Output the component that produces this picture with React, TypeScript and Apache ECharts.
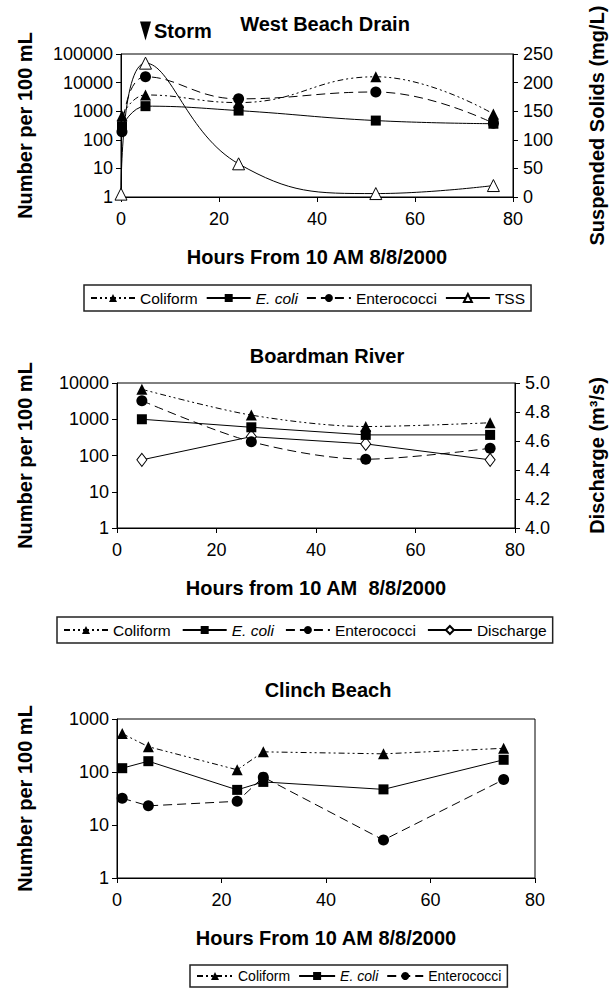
import React, { useEffect, useRef } from "react";
import * as echarts from "echarts";

const FONT = "'Liberation Sans', Arial, Helvetica, sans-serif";

// ---------- West Beach Drain (hours, value) ----------
const wbColiform = [[0.2, 700], [5, 3700], [24, 2000], [52, 16000], [76, 800]];
const wbEcoli = [[0.2, 300], [5, 1500], [24, 1050], [52, 470], [76, 365]];
const wbEntero = [[0.2, 190], [5, 16000], [24, 2700], [52, 4700], [76, 380]];
const wbTSS = [[0, 5], [5, 234], [24, 58], [52, 6], [76, 20]];
const wbStorm = [[5, 100000]];

// ---------- Boardman River ----------
const brColiform = [[5, 6700], [27, 1300], [50, 630], [75, 800]];
const brEcoli = [[5, 1000], [27, 600], [50, 370], [75, 370]];
const brEntero = [[5, 3250], [27, 240], [50, 79], [75, 158]];
const brDischarge = [[5, 4.47], [27, 4.63], [50, 4.58], [75, 4.47]];

// ---------- Clinch Beach ----------
const cbColiform = [[1, 530], [6, 300], [23, 110], [28, 240], [51, 220], [74, 280]];
const cbEcoli = [[1, 118], [6, 160], [23, 46], [28, 65], [51, 47], [74, 170]];
const cbEntero = [[1, 32], [6, 23], [23, 28], [28, 80], [51, 5.2], [74, 72]];

const titles = ["West Beach Drain", "Boardman River", "Clinch Beach"];
const xNames = ["Hours From 10 AM 8/8/2000", "Hours from 10 AM  8/8/2000", "Hours From 10 AM 8/8/2000"];
const leftName = "Number per 100 mL";
const rightNames = ["Suspended Solids (mg/L)", "Discharge (m\u00B3/s)"];
const xTicks = { min: 0, max: 80, interval: 20 };
const wbTssAxis = { min: 0, max: 250, interval: 50 };
const brDisAxis = { min: 4.0, max: 5.0, interval: 0.2 };

const BLACK = "#000";

function styleFor(name: string) {
  if (name === "Coliform")
    return { symbol: "triangle", symbolSize: 11, itemStyle: { color: BLACK }, lineStyle: { color: BLACK, width: 1, type: [6, 3, 2, 3, 2, 3] } };
  if (name === "E. coli")
    return { symbol: "rect", symbolSize: 10, itemStyle: { color: BLACK }, lineStyle: { color: BLACK, width: 1, type: "solid" } };
  if (name === "Enterococci")
    return { symbol: "circle", symbolSize: 11, itemStyle: { color: BLACK }, lineStyle: { color: BLACK, width: 1, type: [9, 5] } };
  if (name === "TSS")
    return { symbol: "triangle", symbolSize: 12, itemStyle: { color: "#fff", borderColor: BLACK, borderWidth: 1 }, lineStyle: { color: BLACK, width: 1, type: "solid" } };
  return { symbol: "diamond", symbolSize: [10, 13], itemStyle: { color: "#fff", borderColor: BLACK, borderWidth: 1 }, lineStyle: { color: BLACK, width: 1, type: "solid" } };
}

function makeSeries(name: string, data: number[][], xi: number, yi: number, smooth: number | boolean, extra: any = {}) {
  return {
    type: "line",
    name,
    data,
    xAxisIndex: xi,
    yAxisIndex: yi,
    smooth,
    clip: false,
    ...styleFor(name),
    ...extra,
  };
}

const axisLabel = { color: BLACK, fontSize: 18, fontFamily: FONT };
const nameStyle = { color: BLACK, fontSize: 20, fontWeight: "bold", fontFamily: FONT };
const axisLine = { show: true, onZero: false, lineStyle: { color: BLACK, width: 1 } };
const axisTick = { show: true, length: 5, lineStyle: { color: BLACK } };

function xAxis(gridIndex: number, name: string) {
  return {
    type: "value",
    gridIndex,
    ...xTicks,
    name,
    nameLocation: "middle",
    nameGap: 50,
    nameTextStyle: nameStyle,
    axisLine,
    axisTick,
    axisLabel: { ...axisLabel, margin: 13 },
    splitLine: { show: false },
  };
}

function logAxis(gridIndex: number, max: number, gap: number) {
  return {
    type: "log",
    logBase: 10,
    gridIndex,
    min: 1,
    max,
    name: leftName,
    nameLocation: "middle",
    nameRotate: 90,
    nameGap: gap,
    nameTextStyle: nameStyle,
    axisLine,
    axisTick,
    axisLabel: { ...axisLabel, margin: 8, formatter: (v: number) => String(Math.round(v)) },
    splitLine: { show: false },
    minorTick: { show: false },
  };
}

function legend(top: number, left: number, data: string[], fs: number, iw: number, pad: number, gap: number) {
  return {
    top,
    left,
    data,
    orient: "horizontal",
    itemWidth: iw,
    itemHeight: 10,
    itemGap: gap,
    padding: [pad, 6, pad, 6],
    borderColor: "#222",
    borderWidth: 1.5,
    textStyle: {
      color: BLACK,
      fontSize: fs,
      fontFamily: FONT,
      rich: { i: { fontStyle: "italic", fontSize: fs, fontFamily: FONT, color: BLACK } },
    },
    formatter: (n: string) => (n === "E. coli" ? "{i|E. coli}" : n),
    selectedMode: false,
  };
}

function rightAxis(gridIndex: number, name: string, range: any, gap: number, fmt?: (v: number) => string) {
  return {
    type: "value",
    gridIndex,
    position: "right",
    ...range,
    name,
    nameLocation: "middle",
    nameRotate: 90,
    nameGap: gap,
    nameTextStyle: nameStyle,
    axisLine,
    axisTick,
    axisLabel: fmt ? { ...axisLabel, margin: 10, formatter: fmt } : { ...axisLabel, margin: 10 },
    splitLine: { show: false },
  };
}

export default function App() {
  const ref = useRef<HTMLDivElement>(null);
  useEffect(() => {
    document.body.style.margin = "0";
    if (!ref.current) return;
    const chart = echarts.init(ref.current, undefined, { renderer: "svg" });
    const option: any = {
      animation: false,
      backgroundColor: "#fff",
      textStyle: { fontFamily: FONT },
      title: [
        { text: titles[0], left: 320, top: 9, textAlign: "center", textStyle: nameStyle },
        { text: titles[1], left: 322, top: 341, textAlign: "center", textStyle: nameStyle },
        { text: titles[2], left: 323, top: 675, textAlign: "center", textStyle: nameStyle },
      ],
      legend: [
        legend(285, 84, ["Coliform", "E. coli", "Enterococci", "TSS"], 15.5, 44, 5, 8),
        legend(617, 57, ["Coliform", "E. coli", "Enterococci", "Discharge"], 15.5, 44, 5, 11),
        legend(965, 190, ["Coliform", "E. coli", "Enterococci"], 14, 36, 4, 8),
      ],
      grid: [
        { left: 121, top: 54, width: 400, height: 143, show: true, borderColor: BLACK, borderWidth: 1, backgroundColor: "transparent" },
        { left: 117, top: 383, width: 406, height: 145, show: true, borderColor: BLACK, borderWidth: 1, backgroundColor: "transparent" },
        { left: 117, top: 719, width: 418, height: 159, show: true, borderColor: BLACK, borderWidth: 1, backgroundColor: "transparent" },
      ],
      xAxis: [xAxis(0, xNames[0]), xAxis(1, xNames[1]), xAxis(2, xNames[2])],
      yAxis: [
        logAxis(0, 100000, 86),
        rightAxis(0, rightNames[0], wbTssAxis, 74),
        logAxis(1, 10000, 82),
        rightAxis(1, rightNames[1], brDisAxis, 72, (v: number) => v.toFixed(1)),
        logAxis(2, 1000, 82),
      ],
      series: [
        makeSeries("TSS", wbTSS, 0, 1, 0.45),
        makeSeries("E. coli", wbEcoli, 0, 0, 0.45),
        makeSeries("Enterococci", wbEntero, 0, 0, 0.45),
        makeSeries("Coliform", wbColiform, 0, 0, 0.45, {
          markPoint: {
            symbol: "triangle",
            symbolRotate: 180,
            symbolSize: [11, 19],
            symbolOffset: [0, -23],
            itemStyle: { color: BLACK },
            label: {
              show: true,
              position: "right",
              distance: 3,
              formatter: "Storm",
              color: BLACK,
              fontSize: 20,
              fontWeight: "bold",
              fontFamily: FONT,
            },
            data: wbStorm.map((c) => ({ coord: c })),
          },
        }),
        makeSeries("Discharge", brDischarge, 1, 3, false),
        makeSeries("E. coli", brEcoli, 1, 2, false),
        makeSeries("Enterococci", brEntero, 1, 2, 0.3),
        makeSeries("Coliform", brColiform, 1, 2, 0.3),
        makeSeries("E. coli", cbEcoli, 2, 4, false),
        makeSeries("Enterococci", cbEntero, 2, 4, false),
        makeSeries("Coliform", cbColiform, 2, 4, false),
      ],
    };
    chart.setOption(option);
    return () => chart.dispose();
  }, []);
  return <div ref={ref} style={{ width: 615, height: 992 }} />;
}
